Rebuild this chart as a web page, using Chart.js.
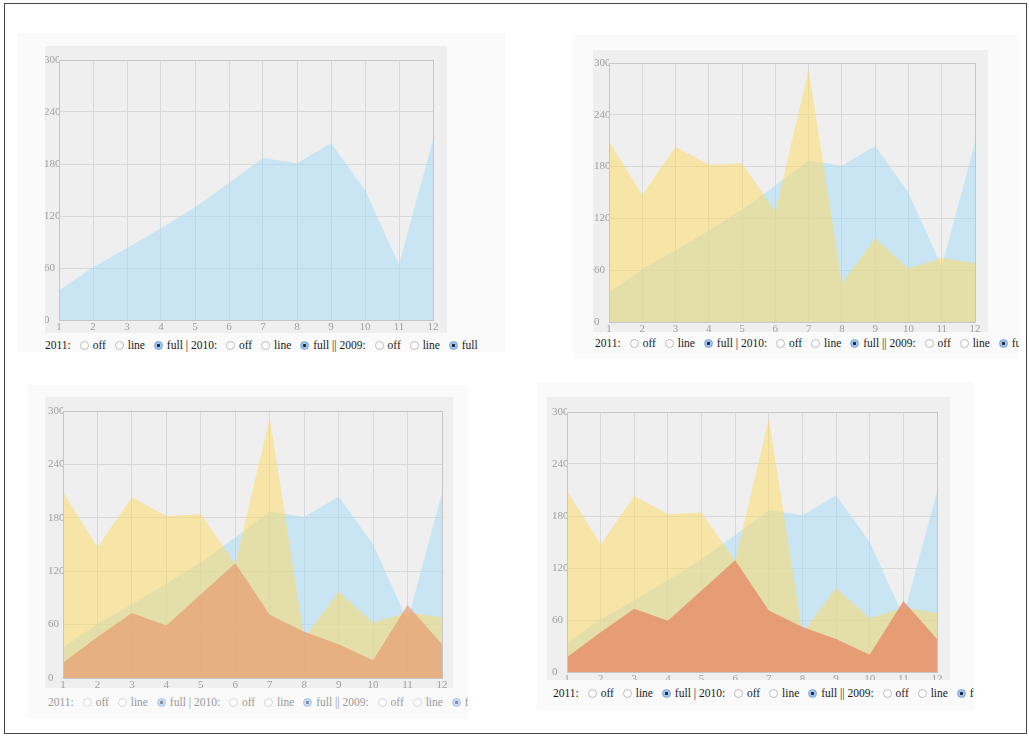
<!DOCTYPE html>
<html>
<head>
<meta charset="utf-8">
<script src="https://cdn.jsdelivr.net/npm/chart.js@4.4.1/dist/chart.umd.min.js"></script>
<style>
body { margin: 0; background: #fff; font-family: "Liberation Serif", "Times New Roman", serif; }
#frame { position: absolute; left: 4px; top: 3px; width: 1023px; height: 731px; border: 1px solid #444; box-sizing: border-box; }
.panel { position: absolute; background: #fafafa; overflow: hidden; }
.box { position: absolute; background: #efefef; }
.legend { position: absolute; white-space: nowrap; font-size: 11.5px; line-height: 14px; color: #1a1a1a; }
.r { display: inline-block; width: 9px; height: 9px; border: 1px solid #bbb; border-radius: 50%; background: #fff; box-sizing: border-box; vertical-align: -1px; margin: 0 4px 0 6px; }
.r.on { background: radial-gradient(circle, #223 0 1.3px, #9cc4ee 1.9px); border-color: #7aa6d8; }
.faded { color: #999; }
.faded .r { border-color: #d4d4d4; }
.faded .r.on { background: radial-gradient(circle, #889 0 1.3px, #c4dcf4 1.9px); border-color: #a8c4e4; }
</style>
</head>
<body>
<div id="frame"></div>

<div class="panel" style="left:17px;top:33px;width:488px;height:319px">
  <div class="box" style="left:28px;top:13px;width:402px;height:287px"><canvas id="c1" width="402" height="287"></canvas></div>
  <div class="legend" id="l1" style="left:28px;top:305px"></div>
</div>

<div class="panel" style="left:573px;top:35px;width:446px;height:323px">
  <div class="box" style="left:20px;top:15px;width:395px;height:282px"><canvas id="c2" width="395" height="282"></canvas></div>
  <div class="legend" id="l2" style="left:22px;top:301px"></div>
</div>

<div class="panel" style="left:27px;top:385px;width:441px;height:333px">
  <div class="box" style="left:18px;top:12px;width:408px;height:291px"><canvas id="c3" width="408" height="291"></canvas></div>
  <div class="legend faded" id="l3" style="left:21px;top:310px"></div>
</div>

<div class="panel" style="left:537px;top:382px;width:437px;height:328px">
  <div class="box" style="left:10px;top:15px;width:403px;height:283px"><canvas id="c4" width="403" height="283"></canvas></div>
  <div class="legend" id="l4" style="left:16px;top:304px"></div>
</div>

<script>
// months on the x axis and y tick values
const months = [1, 2, 3, 4, 5, 6, 7, 8, 9, 10, 11, 12];
const yTicks = [0, 60, 120, 180, 240, 300];

// series values
const sales2011 = [34, 61, 83, 106, 130, 158, 187, 181, 204, 150, 64, 208];
const sales2010 = [209, 147, 203, 182, 184, 128, 292, 45, 97, 62, 74, 68];
const sales2009 = [17, 46, 73, 59, 94, 129, 71, 52, 38, 20, 82, 38];

const years = ['2011', '2010', '2009'];
const modes = ['off', 'line', 'full'];
const seps = ['', ' | ', ' || '];

const blue = 'rgba(170, 220, 245, 0.55)';
const yellow = 'rgba(255, 218, 96, 0.5)';
const red = 'rgba(230, 140, 105, 0.82)';
const redLight = 'rgba(232, 152, 112, 0.66)';

function pts(vals) {
    return months.map(function (m, i) { return {x: m, y: vals[i]}; });
}

// flot-like border round the plot area
const frameBox = {
    id: 'frameBox',
    afterDatasetsDraw(chart) {
        const a = chart.chartArea;
        const ctx = chart.ctx;
        ctx.save();
        ctx.strokeStyle = '#c6c6c6';
        ctx.lineWidth = 1;
        ctx.strokeRect(Math.round(a.left) + 0.5, Math.round(a.top) + 0.5, Math.round(a.right - a.left), Math.round(a.bottom - a.top));
        ctx.restore();
    }
};

function makeChart(id, sets, pad) {
    const tickFont = {family: 'Liberation Serif', size: 11};
    return new Chart(document.getElementById(id), {
        type: 'line',
        data: {
            datasets: sets.map(function (s) {
                return {
                    data: pts(s.vals),
                    fill: 'origin',
                    backgroundColor: s.color,
                    borderWidth: 0,
                    pointRadius: 0,
                    tension: 0,
                    order: s.order
                };
            })
        },
        options: {
            responsive: false,
            animation: false,
            devicePixelRatio: 1,
            layout: {padding: {left: pad.l - 15, top: pad.t, right: pad.r, bottom: 0}},
            plugins: {legend: {display: false}, tooltip: {enabled: false}},
            scales: {
                x: {
                    type: 'linear', min: 1, max: 12,
                    afterBuildTicks: function (s) { s.ticks = months.map(function (m) { return {value: m}; }); },
                    afterFit: function (s) { s.height = pad.b; },
                    ticks: {color: '#a0a0a0', font: tickFont, padding: 1, maxRotation: 0, autoSkip: false},
                    grid: {color: '#d8d8d8', drawTicks: false},
                    border: {color: '#c6c6c6'}
                },
                y: {
                    min: 0, max: 300,
                    afterBuildTicks: function (s) { s.ticks = yTicks.map(function (v) { return {value: v}; }); },
                    afterFit: function (s) { s.width = 15; },
                    ticks: {color: '#a0a0a0', font: tickFont, padding: 0, crossAlign: 'far'},
                    grid: {color: '#d8d8d8', drawTicks: false},
                    border: {color: '#c6c6c6'}
                }
            }
        },
        plugins: [frameBox]
    });
}

function legendHtml() {
    let html = '';
    years.forEach(function (y, i) {
        html += seps[i] + y + ':';
        modes.forEach(function (m) {
            html += ' <span class="r' + (m === 'full' ? ' on' : '') + '"></span>' + m;
        });
    });
    return html;
}

['l1', 'l2', 'l3', 'l4'].forEach(function (id) {
    document.getElementById(id).innerHTML = legendHtml();
});

makeChart('c1', [
    {vals: sales2011, color: blue, order: 3}
], {l: 14, t: 14, r: 14, b: 13});

makeChart('c2', [
    {vals: sales2011, color: blue, order: 3},
    {vals: sales2010, color: yellow, order: 2}
], {l: 16, t: 13, r: 13, b: 10});

makeChart('c3', [
    {vals: sales2011, color: blue, order: 3},
    {vals: sales2010, color: yellow, order: 2},
    {vals: sales2009, color: redLight, order: 1}
], {l: 18, t: 14, r: 11, b: 10});

makeChart('c4', [
    {vals: sales2011, color: blue, order: 3},
    {vals: sales2010, color: yellow, order: 2},
    {vals: sales2009, color: red, order: 1}
], {l: 20, t: 15, r: 13, b: 8});
</script>
</body>
</html>
